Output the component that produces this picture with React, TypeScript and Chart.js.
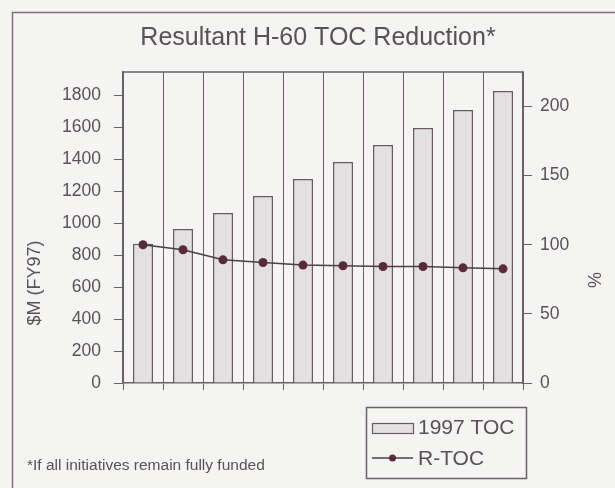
import React, { useEffect, useRef } from "react";
import { Chart, registerables } from "chart.js";

Chart.register(...registerables);

const CATEGORIES = ["1", "2", "3", "4", "5", "6", "7", "8", "9", "10"];
const TOC_1997 = [870, 962, 1062, 1169, 1275, 1381, 1487, 1594, 1706, 1825];
const R_TOC = [100, 96.4, 89.1, 87.2, 85.3, 84.8, 84.3, 84.3, 83.3, 82.6];
const LEFT_TICKS = [0, 200, 400, 600, 800, 1000, 1200, 1400, 1600, 1800];
const RIGHT_TICKS = [0, 50, 100, 150, 200];
const LEFT_MAX = 1944;
const RIGHT_MAX = 225;

const TITLE = "Resultant H-60 TOC Reduction*";
const LEFT_TITLE = "$M (FY97)";
const RIGHT_TITLE = "%";
const FOOTNOTE = "*If all initiatives remain fully funded";
const BAR_LABEL = "1997 TOC";
const LINE_LABEL = "R-TOC";

const FONT = '"Liberation Sans", Arial, Helvetica, sans-serif';
const BG = "#f4f4f2";
const TEXT = "#5a5058";
const LINE = "#6e5e68";
const BAR_FILL = "#e2e0e1";
const BAR_BORDER = "#6a5862";
const POINT = "#5b2a3a";

const decor = {
  id: "decor",
  beforeDraw(chart: any) {
    const ctx = chart.ctx;
    ctx.save();
    ctx.fillStyle = BG;
    ctx.fillRect(0, 0, chart.width, chart.height);
    ctx.restore();
  },
  afterDraw(chart: any) {
    const ctx = chart.ctx;
    const ca = chart.chartArea;
    ctx.save();
    // outer frame
    ctx.strokeStyle = "#7c7078";
    ctx.lineWidth = 1.5;
    ctx.beginPath();
    ctx.moveTo(12.5, chart.height + 2);
    ctx.lineTo(12.5, 12.5);
    ctx.lineTo(chart.width + 2, 12.5);
    ctx.stroke();
    // top border of plot
    ctx.strokeStyle = LINE;
    ctx.lineWidth = 1.5;
    ctx.beginPath();
    ctx.moveTo(ca.left, ca.top);
    ctx.lineTo(ca.right, ca.top);
    ctx.stroke();
    // title
    ctx.fillStyle = TEXT;
    ctx.font = `25px ${FONT}`;
    ctx.textAlign = "center";
    ctx.textBaseline = "middle";
    ctx.fillText(TITLE, 318, 38);
    // axis titles
    ctx.font = `18px ${FONT}`;
    ctx.save();
    ctx.translate(35, 283);
    ctx.rotate(-Math.PI / 2);
    ctx.fillText(LEFT_TITLE, 0, 0);
    ctx.restore();
    ctx.save();
    ctx.translate(596, 280);
    ctx.rotate(-Math.PI / 2);
    ctx.fillText(RIGHT_TITLE, 0, 0);
    ctx.restore();
    // footnote
    ctx.font = `15.5px ${FONT}`;
    ctx.textAlign = "left";
    ctx.fillText(FOOTNOTE, 27, 466);
    // legend
    ctx.strokeStyle = LINE;
    ctx.lineWidth = 1.5;
    ctx.strokeRect(366.5, 407.5, 160, 71);
    const ds = chart.data.datasets;
    ctx.fillStyle = ds[0].backgroundColor;
    ctx.fillRect(372, 423, 41, 10);
    ctx.strokeStyle = ds[0].borderColor;
    ctx.lineWidth = 1.2;
    ctx.strokeRect(372.5, 423.5, 41, 10);
    ctx.strokeStyle = ds[1].borderColor;
    ctx.lineWidth = 1.5;
    ctx.beginPath();
    ctx.moveTo(372, 458);
    ctx.lineTo(413, 458);
    ctx.stroke();
    ctx.fillStyle = ds[1].pointBackgroundColor;
    ctx.beginPath();
    ctx.arc(392.5, 458, 3.5, 0, Math.PI * 2);
    ctx.fill();
    ctx.fillStyle = TEXT;
    ctx.font = `21px ${FONT}`;
    ctx.textBaseline = "middle";
    ctx.fillText(ds[0].label, 418, 428);
    ctx.fillText(ds[1].label, 418, 459);
    ctx.restore();
  },
};

export default function App() {
  const ref = useRef<HTMLCanvasElement | null>(null);
  useEffect(() => {
    if (!ref.current) return;
    const chart = new Chart(ref.current, {
      data: {
        labels: CATEGORIES,
        datasets: [
          {
            type: "bar",
            label: BAR_LABEL,
            data: TOC_1997,
            yAxisID: "y",
            backgroundColor: BAR_FILL,
            borderColor: BAR_BORDER,
            borderWidth: 1.5,
            barPercentage: 0.5,
            categoryPercentage: 1.0,
            order: 1,
          } as any,
          {
            type: "line",
            label: LINE_LABEL,
            data: R_TOC,
            yAxisID: "y2",
            borderColor: "#4e3e47",
            borderWidth: 1.5,
            pointBackgroundColor: POINT,
            pointBorderColor: POINT,
            pointRadius: 4.5,
            pointBorderWidth: 0,
            order: 0,
          } as any,
        ],
      },
      options: {
        animation: false,
        responsive: false,
        maintainAspectRatio: false,
        layout: { padding: { top: 72, left: 0, right: 0, bottom: 0 } },
        plugins: {
          legend: { display: false },
          title: { display: false },
          tooltip: { enabled: false },
        },
        font: { family: FONT },
        scales: {
          x: {
            offset: true,
            ticks: { display: false },
            grid: {
              offset: true,
              color: LINE,
              lineWidth: 1,
              drawTicks: true,
              tickLength: 7,
            },
            border: { display: true, color: LINE, width: 1.5 },
            afterFit: (s: any) => {
              s.height = 105;
            },
          },
          y: {
            position: "left",
            min: 0,
            max: LEFT_MAX,
            afterBuildTicks: (s: any) => {
              s.ticks = LEFT_TICKS.map((v) => ({ value: v }));
            },
            ticks: {
              color: TEXT,
              padding: 13,
              font: { family: FONT, size: 17.5 },
              callback: (v: any) => String(v),
            },
            grid: {
              drawOnChartArea: false,
              drawTicks: true,
              tickLength: 9,
              color: LINE,
            },
            border: { display: true, color: LINE, width: 1.5 },
            afterFit: (s: any) => {
              s.width = 123;
            },
          },
          y2: {
            position: "right",
            min: 0,
            max: RIGHT_MAX,
            afterBuildTicks: (s: any) => {
              s.ticks = RIGHT_TICKS.map((v) => ({ value: v }));
            },
            ticks: {
              color: TEXT,
              padding: 8,
              font: { family: FONT, size: 17.5 },
              callback: (v: any) => String(v),
            },
            grid: {
              drawOnChartArea: false,
              drawTicks: true,
              tickLength: 9,
              color: LINE,
            },
            border: { display: true, color: LINE, width: 1.5 },
            afterFit: (s: any) => {
              s.width = 92;
            },
          },
        },
      } as any,
      plugins: [decor],
    });
    return () => chart.destroy();
  }, []);
  return (
    <div style={{ position: "fixed", left: 0, top: 0, width: 615, height: 488, background: BG }}>
      <canvas ref={ref} width={615} height={488} style={{ display: "block", width: 615, height: 488 }} />
    </div>
  );
}
